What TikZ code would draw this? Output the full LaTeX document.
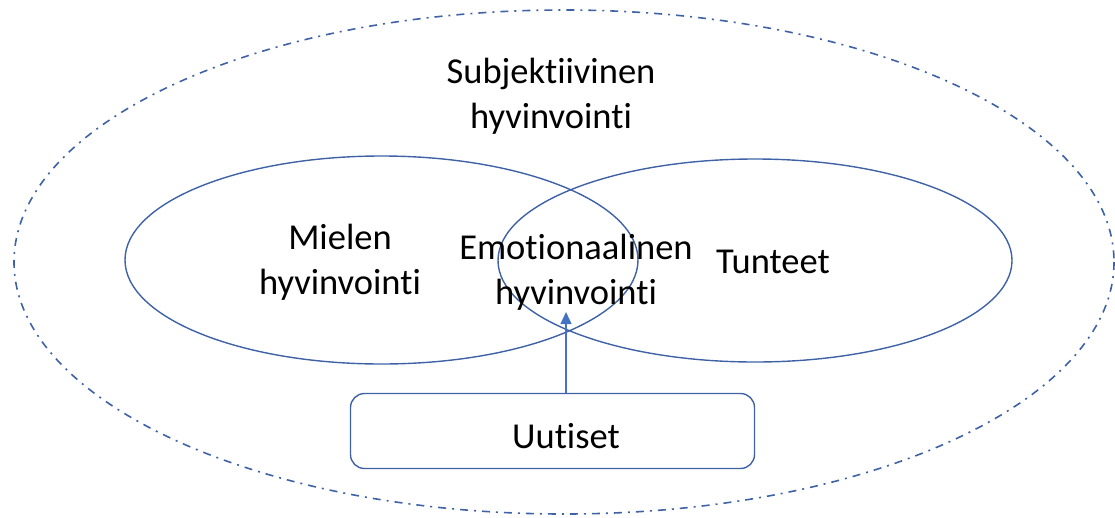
\documentclass[tikz,border=0pt]{standalone}
\usepackage{fontspec}
\setmainfont[Ligatures=NoCommon]{Carlito}
\usetikzlibrary{arrows.meta}
\usetikzlibrary{positioning}

\definecolor{ringblue}{HTML}{3F62A6}
\definecolor{arrowblue}{HTML}{4472C4}

\begin{document}
\begin{tikzpicture}[x=1pt,y=-1pt,%
  every node/.style={font=\fontsize{36.5}{45}\selectfont,align=center},%
  ring/.style={draw=ringblue,line width=1.4pt},%
  outer ring/.style={draw=ringblue,line width=1.6pt,%
  dash pattern=on 8pt off 6pt on 2pt off 6pt},%
  newsbox/.style={draw=ringblue,line width=1.4pt,rounded corners=14pt,%
  minimum width=404pt,minimum height=75pt}]
  \useasboundingbox (0,0) rectangle (1115,517);

  \draw[outer ring] (564,262) ellipse [x radius=550,y radius=252];
  \draw[ring]       (381.5,260) ellipse [x radius=256.5,y radius=104];
  \draw[ring]       (755,260.5) ellipse [x radius=257,y radius=101.5];

  \node (subj)   at (551,96)  {Subjektiivinen\\hyvinvointi};
  \node (mieli)  at (340,262) {Mielen\\hyvinvointi};
  \node (emo)    at (576,272) {Emotionaalinen\\hyvinvointi};
  \node (tunne)  at (773,262) {Tunteet};
  \node[newsbox] (uutiset) at (552.5,431) {};
  \node (uutext) at (566,436) {Uutiset};
  \coordinate (tip) at (566,312);

  \draw[arrowblue,line width=1.4pt,-{Triangle[width=11pt,length=12pt]}]
    (uutiset.north -| tip) -- (tip);
\end{tikzpicture}
\end{document}
